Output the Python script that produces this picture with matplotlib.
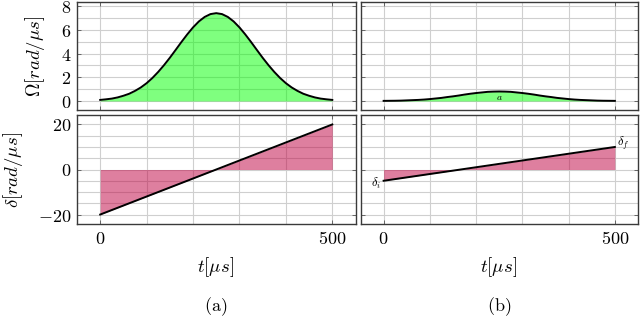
import matplotlib
matplotlib.use("Agg")
import matplotlib.pyplot as plt

plt.rcParams['mathtext.fontset'] = 'cm'
plt.rcParams['font.family'] = 'DejaVu Serif'

# ---- data ----
t = [0, 12.5, 25, 37.5, 50, 62.5, 75, 87.5, 100, 112.5, 125, 137.5, 150, 162.5,
     175, 187.5, 200, 212.5, 225, 237.5, 250, 262.5, 275, 287.5, 300, 312.5,
     325, 337.5, 350, 362.5, 375, 387.5, 400, 412.5, 425, 437.5, 450, 462.5,
     475, 487.5, 500]
omega_a = [0.09, 0.14, 0.20, 0.30, 0.44, 0.61, 0.85, 1.14, 1.50, 1.94, 2.45,
           3.02, 3.64, 4.30, 4.97, 5.61, 6.20, 6.70, 7.08, 7.32, 7.40,
           7.32, 7.08, 6.70, 6.20, 5.61, 4.97, 4.30, 3.64, 3.02, 2.45,
           1.94, 1.50, 1.14, 0.85, 0.61, 0.44, 0.30, 0.20, 0.14, 0.09]
omega_b = [0.01, 0.015, 0.02, 0.03, 0.05, 0.07, 0.09, 0.12, 0.16, 0.21, 0.26,
           0.33, 0.39, 0.46, 0.54, 0.61, 0.67, 0.72, 0.77, 0.79, 0.80,
           0.79, 0.77, 0.72, 0.67, 0.61, 0.54, 0.46, 0.39, 0.33, 0.26,
           0.21, 0.16, 0.12, 0.09, 0.07, 0.05, 0.03, 0.02, 0.015, 0.01]
t_lin = [0, 500]
delta_a = [-20, 20]
delta_b = [-5, 10]

x_ticks = [0, 500]
x_ticklabels = [r'$0$', r'$500$']
om_ticks = [0, 2, 4, 6, 8]
de_ticks = [-20, 0, 20]

W, H = 640, 319
fig = plt.figure(figsize=(W / 100, H / 100), dpi=100)

def px_axes(x0, x1, y0, y1):
    return fig.add_axes([x0 / W, 1 - y1 / H, (x1 - x0) / W, (y1 - y0) / H])

ax_ta = px_axes(77, 355.5, 2, 110)
ax_ba = px_axes(77, 355.5, 115, 224)
ax_tb = px_axes(360.5, 638, 2, 110)
ax_bb = px_axes(360.5, 638, 115, 224)

green = (0, 1, 0)
purple = (0.75, 0, 0.25)
gridc = '#cfcfcf'
spinec = '#3a3a3a'
FS = 13

def style(ax, ylim, ymajor, yminor_grid, label_y, label_x):
    ax.set_xlim(-50, 550)
    ax.set_ylim(*ylim)
    for g in range(0, 501, 100):
        ax.axvline(g, color=gridc, lw=0.8, zorder=0)
    for g in yminor_grid:
        ax.axhline(g, color=gridc, lw=0.8, zorder=0)
    for s in ax.spines.values():
        s.set_color(spinec)
        s.set_linewidth(1.0)
    ax.set_xticks(x_ticks)
    ax.set_yticks(ymajor)
    ax.tick_params(direction='in', length=3, width=0.6, color='#555555',
                   top=True, right=True, labelsize=FS, pad=4)
    if label_x:
        ax.set_xticklabels(x_ticklabels)
    else:
        ax.set_xticklabels([])
    if label_y:
        ax.set_yticklabels([r'$%d$' % v if v >= 0 else r'$-%d$' % (-v) for v in ymajor])
    else:
        ax.set_yticklabels([])

om_grid = list(range(0, 9))
de_grid = list(range(-20, 21, 5))

style(ax_ta, (-0.76, 8.34), om_ticks, om_grid, True, False)
style(ax_tb, (-0.76, 8.34), om_ticks, om_grid, False, False)
style(ax_ba, (-24.2, 24.2), de_ticks, de_grid, True, True)
style(ax_bb, (-24.2, 24.2), de_ticks, de_grid, False, True)

ax_ta.fill_between(t, omega_a, 0, color=green, alpha=0.5, lw=0, zorder=1)
ax_ta.plot(t, omega_a, color='black', lw=1.4, zorder=3, solid_joinstyle='round')
ax_tb.fill_between(t, omega_b, 0, color=green, alpha=0.5, lw=0, zorder=1)
ax_tb.plot(t, omega_b, color='black', lw=1.4, zorder=3, solid_joinstyle='round')
ax_tb.text(250, 0.3, r'$a$', fontsize=7, ha='center', va='center', zorder=4)

ax_ba.fill_between(t_lin, delta_a, 0, color=purple, alpha=0.5, lw=0, zorder=1)
ax_ba.plot(t_lin, delta_a, color='black', lw=1.4, zorder=3)
ax_bb.fill_between(t_lin, delta_b, 0, color=purple, alpha=0.5, lw=0, zorder=1)
ax_bb.plot(t_lin, delta_b, color='black', lw=1.4, zorder=3)
ax_bb.text(-6, delta_b[0] - 1.0, r'$\delta_i$', fontsize=9, ha='right', va='center')
ax_bb.text(505, delta_b[1] + 1.5, r'$\delta_f$', fontsize=9, ha='left', va='center')

fig.text(35 / W, 1 - 56 / H, r'$\Omega[rad/\mu s]$', rotation=90,
         ha='center', va='center', fontsize=FS + 0.5)
fig.text(13 / W, 1 - 170 / H, r'$\delta[rad/\mu s]$', rotation=90,
         ha='center', va='center', fontsize=FS + 0.5)
fig.text(216 / W, 1 - 267 / H, r'$t[\mu s]$', ha='center', va='center', fontsize=FS + 0.5)
fig.text(499 / W, 1 - 267 / H, r'$t[\mu s]$', ha='center', va='center', fontsize=FS + 0.5)
fig.text(216 / W, 1 - 307 / H, r'$\mathrm{(a)}$', ha='center', va='center', fontsize=FS)
fig.text(499 / W, 1 - 307 / H, r'$\mathrm{(b)}$', ha='center', va='center', fontsize=FS)

fig.savefig('out.png', dpi=100)
